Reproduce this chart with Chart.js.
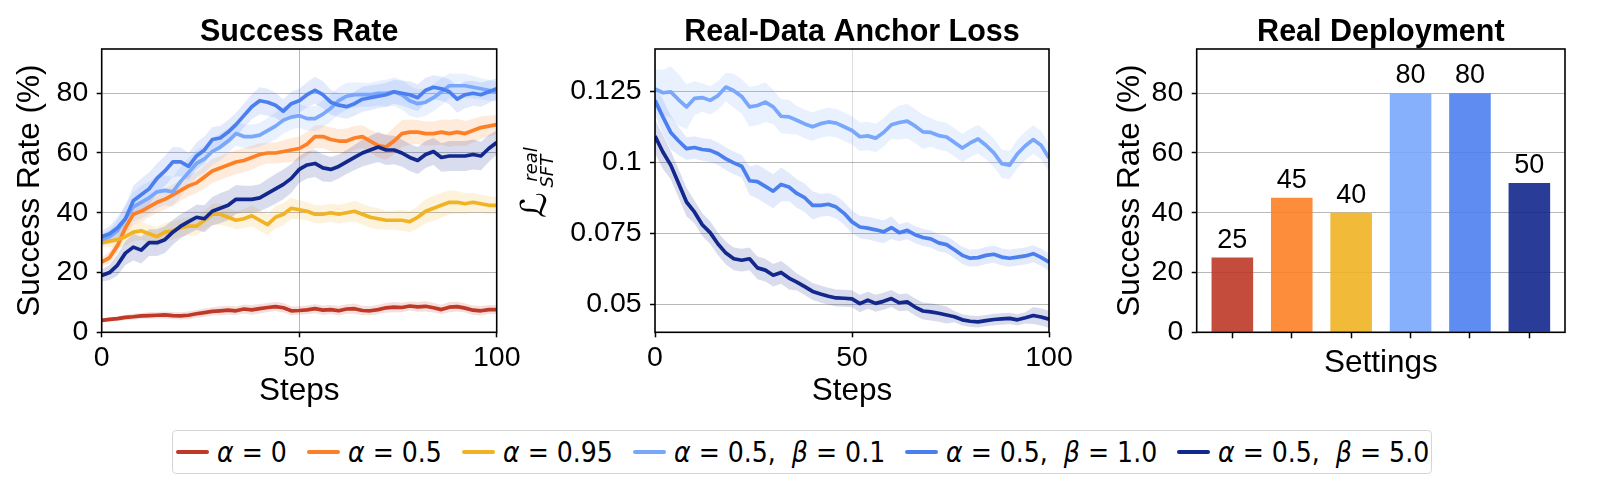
<!DOCTYPE html>
<html>
<head>
<meta charset="utf-8">
<script src="https://cdn.jsdelivr.net/npm/chart.js@4.4.1/dist/chart.umd.min.js"></script>
<style>
  html, body { margin: 0; padding: 0; background: #fff; }
  body { width: 1621px; height: 494px; position: relative; overflow: hidden; font-family: 'Liberation Sans', Arial, sans-serif; }
  .pane { position: absolute; top: 0; }
  #legend {
    position: absolute; left: 172px; top: 430px; width: 1260px; height: 44px;
    box-sizing: border-box; border: 1px solid #d6d6d6; border-radius: 4px;
    display: flex; align-items: center; padding-left: 3px;
    font-family: 'DejaVu Sans', sans-serif; font-size: 28px; color: #000; white-space: pre;
  }
  .item { display: flex; align-items: center; margin-right: 20px; }
  .handle { width: 33px; height: 4px; border-radius: 2px; margin-right: 8px; flex: none; }
  .txt { display: inline-block; transform: scaleX(0.9); transform-origin: 0 50%; }
  .txt i { font-style: italic; }
</style>
</head>
<body>
<div class="pane" style="left:0px"><canvas id="c1" width="560" height="420"></canvas></div>
<div class="pane" style="left:510px"><canvas id="c2" width="600" height="420"></canvas></div>
<div class="pane" style="left:1060px"><canvas id="c3" width="561" height="420"></canvas></div>
<div id="legend"></div>
<script>
// ---------------- DATA ----------------
const steps = [0,2,4,6,8,10,12,14,16,18,20,22,24,26,28,30,32,34,36,38,40,42,44,46,48,50,52,54,56,58,60,62,64,66,68,70,72,74,76,78,80,82,84,86,88,90,92,94,96,98,100];

const seriesLabels = ['α = 0', 'α = 0.5', 'α = 0.95', 'α = 0.5,  β = 0.1', 'α = 0.5,  β = 1.0', 'α = 0.5,  β = 5.0'];
const seriesColors = ['#be3927', '#fd8026', '#f1b324', '#79a7fc', '#4c7fee', '#12288d'];

// Success rate (%) per step
const succAlpha0 = [4,4.3,4.6,5,5.2,5.5,5.6,5.7,5.8,5.6,5.5,5.7,6.2,6.6,7,7.2,7.4,7.2,7.8,7.5,7.9,8.3,8.6,8.2,7.2,7.3,7.5,7.9,7.4,7.6,7.2,7.8,7.9,7.3,7.2,7.6,8.2,8.4,8.3,8.8,8.5,8.7,8.2,7.6,8.4,8.6,8.1,7.4,7.2,7.6,7.6];
const succAlpha05 = [23.5,25,29,35,39.5,40.5,42,43.5,44.5,46,47.5,49,50,52,54,55,56,57,57.5,58.5,59.5,60,60,60.5,61,61.5,63,65.5,65.5,64.5,64,64,65,65.5,64,62.5,62,64,66.5,67,67,66.5,66.5,67,66.5,67,66.5,67.5,68.5,69,69.5];
const succAlpha095 = [30,30.5,31,32,33.5,34,33,32,33.5,34,35,35.5,35.5,37.5,39.5,39.5,38.5,37.5,38,39,37.5,36,38.5,39.5,41.5,41,40.5,39.5,39.5,40,39.5,40,40.5,39.5,38.5,38,37.5,37.5,37.5,37,38.5,40.5,41.5,42.5,43.5,43.5,43,43.5,43,42.5,42.5];
const succBeta01 = [31,32,34,38,42,43.5,45,47,47.5,47,50.5,53.5,56.5,58,60.5,62,64,66.5,65.5,65.5,66,67.5,69,71,72,72.5,71.5,71.5,73,75,77.5,79,79.5,79.5,79.5,80,80,80.5,79.5,77.5,76.5,77,78.5,80.5,82.5,82.5,82.5,82,81.5,81,80.5];
const succBeta1 = [32,33,35,38,44,46,48,51.5,54,57,57,55.5,59,61,64.5,65,67,69.5,72.5,75.5,77.5,77,76,74,76.5,77.5,79.5,81,79.5,77,76,75.5,76.5,78,78.5,79,79.5,80.5,80,79.5,78.5,81,82,81.5,80.5,78,79.5,80,79.5,80.5,81.5];
const succBeta5 = [19,20,22.5,26.5,28.5,27.5,30,30,31,33.5,35.5,37,38.5,38,40.5,41.5,42.5,44.5,44.5,44.5,45,46.5,48,49.5,51.5,54.5,56,56.5,55,54.5,55.5,57,58.5,60,61,62,61,61,60,58.5,57.5,59.5,60.5,58.5,59,59,59,59.5,59,61.5,63.5];

// Success rate spread (half-width of shaded band)
const succAlpha0Band = [0.6,0.7,0.8,0.9,1.0,1.0,1.1,1.1,1.2,1.2,1.2,1.3,1.3,1.4,1.4,1.5,1.5,1.4,1.5,1.6,1.6,1.5,1.5,1.6,1.5,1.4,1.5,1.5,1.6,1.5,1.6,1.6,1.7,1.6,1.5,1.6,1.6,1.7,1.6,1.5,1.6,1.7,1.6,1.6,1.7,1.6,1.5,1.6,1.6,1.5,1.5];
const succAlpha05Band = [1.5,2,2.5,3,3.5,3.5,3.5,3.5,3.5,3.5,3.5,3.5,3.5,3.8,4,4,4,4,4,4,3.8,3.5,3.5,3.8,4,4,4,3.8,3.8,4,4,4.2,4,3.8,3.8,4,4.2,4.5,4.5,4.2,4,4,4,4.2,4.5,4.5,4.2,4,3.8,3.5,3.2];
const succAlpha095Band = [1.5,2,2.5,3,3,3,3,3.2,3.2,3,3,3,3.2,3.2,3.5,3.5,3.2,3,3.2,3.5,3.5,3.5,3.8,3.8,3.5,3.2,3,3,3,3,3.2,3.2,3.5,3.5,3.5,3.5,3.2,3.2,3.5,3.5,3.8,4,4.2,4.2,4,3.8,3.5,3.2,3,3,2.8];
const succBeta01Band = [2,2.5,3.5,4.5,5,5.5,5.5,5.5,5,5,5,4.8,4.5,4.5,4.5,4.5,4.2,4,4,4,4,4.2,4.5,4.5,4.2,4,4,4.2,4.5,4.5,4.5,4.5,4.2,4,4,4.2,4.5,4.8,5,5,4.8,4.5,4.5,4.5,4.2,4,4,3.8,3.5,3.5,3.2];
const succBeta1Band = [2,2.5,3.5,4.5,5,5.5,5.5,5,5,5,4.8,4.5,4.5,4.5,4.2,4,4,4,4,4.2,4.5,4.5,4.2,4,4,4,4.2,4.5,4.5,4.2,4,4,4,4.2,4.2,4,4,4,4.2,4.5,4.5,4.2,4,4,4.2,4.5,4.5,4.2,4,3.8,3.5];
const succBeta5Band = [2,2.5,3.5,4,4.5,4.5,4.5,4.5,4.5,4.2,4,4,4.2,4.5,4.8,5,5,4.8,4.5,4.5,4.5,4.8,5,5,4.8,4.5,4.5,4.5,4.5,4.2,4,4,4.2,4.5,4.8,5,5,4.8,4.5,4.5,4.5,4.5,4.5,4.8,5,5,5,5,4.8,4.5,4];

// Real-data anchor loss per step
const lossBeta01 = [0.1258,0.1245,0.1248,0.1220,0.1195,0.1225,0.1228,0.1218,0.1235,0.1265,0.1252,0.1232,0.1195,0.1200,0.1212,0.1195,0.1162,0.1160,0.1148,0.1135,0.1125,0.1136,0.1142,0.1138,0.1125,0.1112,0.1090,0.1093,0.1085,0.1105,0.1132,0.1140,0.1145,0.1128,0.1107,0.1105,0.1094,0.1089,0.1070,0.1050,0.1068,0.1082,0.1060,0.1033,0.0995,0.0990,0.1030,0.1058,0.1080,0.1060,0.1015];
const lossBeta1 = [0.1218,0.1160,0.1105,0.1075,0.1048,0.1052,0.1045,0.1042,0.1030,0.1012,0.0998,0.0986,0.0935,0.0932,0.0915,0.0898,0.0922,0.0913,0.0890,0.0875,0.0848,0.0848,0.0852,0.0842,0.0820,0.0790,0.0772,0.0768,0.0762,0.0755,0.0770,0.0752,0.0760,0.0745,0.0735,0.0730,0.0716,0.0710,0.0692,0.0672,0.0662,0.0664,0.0672,0.0676,0.0666,0.0662,0.0666,0.0670,0.0678,0.0665,0.0648];
const lossBeta5 = [0.1092,0.1036,0.0990,0.0925,0.0860,0.0825,0.0780,0.0752,0.0712,0.0680,0.0660,0.0655,0.0660,0.0628,0.0620,0.0602,0.0612,0.0592,0.0578,0.0562,0.0545,0.0536,0.0528,0.0522,0.0521,0.0519,0.0502,0.0514,0.0503,0.0510,0.0520,0.0505,0.0508,0.0490,0.0476,0.0473,0.0468,0.0462,0.0456,0.0445,0.0440,0.0438,0.0442,0.0446,0.0448,0.0450,0.0445,0.0452,0.0460,0.0455,0.0447];

const lossBeta01Band = [0.007,0.008,0.009,0.009,0.008,0.006,0.005,0.005,0.005,0.005,0.006,0.006,0.007,0.007,0.007,0.006,0.006,0.006,0.005,0.005,0.005,0.005,0.005,0.005,0.005,0.005,0.005,0.005,0.005,0.005,0.005,0.006,0.006,0.006,0.006,0.005,0.005,0.005,0.005,0.005,0.005,0.005,0.005,0.005,0.005,0.005,0.005,0.005,0.005,0.005,0.005];
const lossBeta1Band = [0.005,0.006,0.006,0.005,0.004,0.004,0.004,0.004,0.004,0.004,0.004,0.004,0.005,0.006,0.006,0.006,0.006,0.005,0.005,0.005,0.005,0.004,0.004,0.004,0.004,0.004,0.004,0.004,0.004,0.004,0.004,0.003,0.003,0.003,0.003,0.003,0.003,0.003,0.003,0.003,0.003,0.003,0.003,0.003,0.003,0.003,0.003,0.003,0.003,0.003,0.003];
const lossBeta5Band = [0.006,0.006,0.005,0.005,0.005,0.004,0.004,0.004,0.004,0.004,0.004,0.004,0.004,0.004,0.004,0.004,0.004,0.004,0.003,0.003,0.003,0.003,0.003,0.003,0.003,0.003,0.003,0.003,0.003,0.003,0.003,0.003,0.003,0.003,0.003,0.003,0.003,0.003,0.002,0.002,0.002,0.002,0.002,0.002,0.002,0.002,0.002,0.002,0.003,0.003,0.003];

// Real deployment
const deploySettings = ['α = 0', 'α = 0.5', 'α = 0.95', 'α = 0.5, β = 0.1', 'α = 0.5, β = 1.0', 'α = 0.5, β = 5.0'];
const deployValues = [25, 45, 40, 80, 80, 50];

// Tick values
const successTicks = [0, 20, 40, 60, 80];
const stepTicks = [0, 50, 100];
const lossTicks = [0.05, 0.075, 0.1, 0.125];

// ---------------- HELPERS ----------------
const FAMILY = "'Liberation Sans', Arial, sans-serif";
Chart.defaults.font.family = FAMILY;
Chart.defaults.color = '#000';

function rgba(hex, a) {
  const n = parseInt(hex.slice(1), 16);
  return `rgba(${(n >> 16) & 255},${(n >> 8) & 255},${n & 255},${a})`;
}
function buildSeries(values, band, color, idx) {
  return {
    band: [
      { data: steps.map((s, i) => ({ x: s, y: values[i] + band[i] })), borderWidth: 0, borderColor: 'transparent', pointRadius: 0, fill: '+1', backgroundColor: rgba(color, 0.16), order: 100 - idx },
      { data: steps.map((s, i) => ({ x: s, y: values[i] - band[i] })), borderWidth: 0, borderColor: 'transparent', pointRadius: 0, fill: false, order: 100 - idx }
    ],
    line: { data: steps.map((s, i) => ({ x: s, y: values[i] })), borderColor: color, borderWidth: 3.7, pointRadius: 0, fill: false, borderJoinStyle: 'round', borderCapStyle: 'butt', order: 20 - idx }
  };
}
function assemble(list) {
  const ds = [];
  list.forEach(s => ds.push(...s.band));
  list.forEach(s => ds.push(s.line));
  return ds;
}

// Draw text rotated by -90deg so that its ink box lands on a target box
// (x0..x1 horizontal extent, yBottom = lower end of the rotated text), canvas-local px.
function drawRotatedInk(ctx, text, fontTpl, baseSize, x0, x1, yBottom) {
  ctx.font = fontTpl(baseSize);
  let m = ctx.measureText(text);
  const h = m.actualBoundingBoxAscent + m.actualBoundingBoxDescent;
  const size = baseSize * (x1 - x0) / h;
  ctx.font = fontTpl(size);
  m = ctx.measureText(text);
  const v = x1 - m.actualBoundingBoxDescent;
  const u = m.actualBoundingBoxLeft - yBottom;
  ctx.save();
  ctx.rotate(-Math.PI / 2);
  ctx.textAlign = 'left';
  ctx.textBaseline = 'alphabetic';
  ctx.fillText(text, u, v);
  ctx.restore();
}

const panelDecor = {
  id: 'panelDecor',
  afterDraw(chart, args, opts) {
    const { ctx, chartArea: a } = chart;
    ctx.save();
    ctx.strokeStyle = '#000';
    ctx.lineWidth = 1.6;
    ctx.strokeRect(a.left, a.top, a.right - a.left, a.bottom - a.top);
    ctx.fillStyle = '#000';
    ctx.font = "bold 30.5px " + FAMILY;
    ctx.textAlign = 'center';
    ctx.textBaseline = 'middle';
    ctx.fillText(opts.title, (a.left + a.right) / 2, 32.5);
    if (opts.barLabels) {
      const meta = chart.getDatasetMeta(0);
      ctx.font = "27px " + FAMILY;
      ctx.textBaseline = 'alphabetic';
      meta.data.forEach((bar, i) => ctx.fillText(String(deployValues[i]), bar.x, bar.y - 10));
    }
    if (opts.mathLabel) {
      // y-axis label  L^{real}_{SFT}
      const dx = opts.mathLabel.dx;
      const big = s => s + "px 'DejaVu Sans', sans-serif";
      const small = s => "italic " + s + "px 'DejaVu Sans', sans-serif";
      drawRotatedInk(ctx, 'ℒ', big, 32, 528 - dx, 556 - dx, 230);
      drawRotatedInk(ctx, 'real', small, 18, 528 - dx, 542 - dx, 199);
      drawRotatedInk(ctx, 'SFT', small, 18, 545 - dx, 558 - dx, 204);
    }
    ctx.restore();
  }
};

const tickFont = { size: 28.5 };
const labelFont = { size: 31.5 };
const gridH = 'rgba(0,0,0,0.28)';

// ---------------- PANEL 1 ----------------
const succSeries = [
  buildSeries(succAlpha0, succAlpha0Band, seriesColors[0], 0),
  buildSeries(succAlpha05, succAlpha05Band, seriesColors[1], 1),
  buildSeries(succAlpha095, succAlpha095Band, seriesColors[2], 2),
  buildSeries(succBeta01, succBeta01Band, seriesColors[3], 3),
  buildSeries(succBeta1, succBeta1Band, seriesColors[4], 4),
  buildSeries(succBeta5, succBeta5Band, seriesColors[5], 5)
];
new Chart(document.getElementById('c1'), {
  type: 'line',
  data: { datasets: assemble(succSeries) },
  options: {
    responsive: false, animation: false, events: [],
    layout: { padding: { left: 0, right: 63.3, top: 49, bottom: 0 } },
    plugins: { legend: { display: false }, tooltip: { enabled: false }, panelDecor: { title: 'Success Rate' } },
    scales: {
      x: {
        type: 'linear', min: 0, max: 100,
        afterBuildTicks: s => { s.ticks = stepTicks.map(v => ({ value: v })); },
        afterFit: s => { s.height = 87.7; },
        ticks: { font: tickFont, padding: 4, maxRotation: 0, autoSkip: false },
        grid: { color: gridH, lineWidth: 1, tickLength: 5, tickColor: '#000', tickWidth: 1.5 },
        border: { display: false },
        title: { display: true, text: 'Steps', font: labelFont, padding: { top: 0, bottom: 9.8 } }
      },
      y: {
        min: 0, max: 94.8,
        afterBuildTicks: s => { s.ticks = successTicks.map(v => ({ value: v })); },
        afterFit: s => { s.width = 101.7; },
        ticks: { font: tickFont, padding: 8.4 },
        grid: { color: gridH, lineWidth: 1, tickLength: 5, tickColor: '#000', tickWidth: 1.5 },
        border: { display: false },
        title: { display: true, text: 'Success Rate (%)', font: labelFont, padding: { top: 11.1, bottom: 0 } }
      }
    }
  },
  plugins: [panelDecor]
});

// ---------------- PANEL 2 ----------------
const lossSeries = [
  buildSeries(lossBeta01, lossBeta01Band, seriesColors[3], 3),
  buildSeries(lossBeta1, lossBeta1Band, seriesColors[4], 4),
  buildSeries(lossBeta5, lossBeta5Band, seriesColors[5], 5)
];
new Chart(document.getElementById('c2'), {
  type: 'line',
  data: { datasets: assemble(lossSeries) },
  options: {
    responsive: false, animation: false, events: [],
    layout: { padding: { left: 0, right: 61, top: 49, bottom: 0 } },
    plugins: { legend: { display: false }, tooltip: { enabled: false }, panelDecor: { title: 'Real-Data Anchor Loss', mathLabel: { dx: 510 } } },
    scales: {
      x: {
        type: 'linear', min: 0, max: 100,
        afterBuildTicks: s => { s.ticks = stepTicks.map(v => ({ value: v })); },
        afterFit: s => { s.height = 87.7; },
        ticks: { font: tickFont, padding: 4, maxRotation: 0, autoSkip: false },
        grid: { color: 'rgba(0,0,0,0.13)', lineWidth: 1, tickLength: 5, tickColor: '#000', tickWidth: 1.5 },
        border: { display: false },
        title: { display: true, text: 'Steps', font: labelFont, padding: { top: 0, bottom: 9.8 } }
      },
      y: {
        min: 0.0401, max: 0.1399,
        afterBuildTicks: s => { s.ticks = lossTicks.map(v => ({ value: v })); },
        afterFit: s => { s.width = 145; },
        ticks: { font: tickFont, padding: 8.4, callback: v => String(v) },
        grid: { color: gridH, lineWidth: 1, tickLength: 5, tickColor: '#000', tickWidth: 1.5 },
        border: { display: false }
      }
    }
  },
  plugins: [panelDecor]
});

// ---------------- PANEL 3 ----------------
new Chart(document.getElementById('c3'), {
  type: 'bar',
  data: {
    datasets: [{
      label: 'Real Deployment',
      data: deployValues.map((v, i) => ({ x: i, y: v })),
      backgroundColor: seriesColors.map(c => rgba(c, 0.9)),
      borderWidth: 0,
      categoryPercentage: 1, barPercentage: 0.7
    }]
  },
  options: {
    responsive: false, animation: false, events: [],
    layout: { padding: { left: 0, right: 56, top: 49, bottom: 0 } },
    plugins: { legend: { display: false }, tooltip: { enabled: false }, panelDecor: { title: 'Real Deployment', barLabels: true } },
    scales: {
      x: {
        type: 'linear', min: -0.6, max: 5.6, offset: false,
        afterBuildTicks: s => { s.ticks = deploySettings.map((_, i) => ({ value: i })); },
        afterFit: s => { s.height = 87.7; },
        ticks: { font: tickFont, padding: 4, callback: () => '' },
        grid: { offset: false, drawOnChartArea: false, tickLength: 6, tickColor: '#000', tickWidth: 1.5 },
        border: { display: false },
        title: { display: true, text: 'Settings', font: labelFont, padding: { top: 0, bottom: 38.1 } }
      },
      y: {
        min: 0, max: 94.8,
        afterBuildTicks: s => { s.ticks = successTicks.map(v => ({ value: v })); },
        afterFit: s => { s.width = 136.7; },
        ticks: { font: tickFont, padding: 8.4 },
        grid: { color: gridH, lineWidth: 1, tickLength: 5, tickColor: '#000', tickWidth: 1.5 },
        border: { display: false },
        title: { display: true, text: 'Success Rate (%)', font: labelFont, padding: { top: 51, bottom: 0 } }
      }
    }
  },
  plugins: [panelDecor]
});

// ---------------- LEGEND ----------------
const legend = document.getElementById('legend');
const SCALE_X = 0.9;
seriesLabels.forEach((lab, i) => {
  const item = document.createElement('div');
  item.className = 'item';
  const h = document.createElement('span');
  h.className = 'handle';
  h.style.background = seriesColors[i];
  item.appendChild(h);
  const t = document.createElement('span');
  t.className = 'txt';
  t.innerHTML = lab.replace(/([αβ])/g, '<i>$1</i>');
  item.appendChild(t);
  legend.appendChild(item);
  t.style.marginRight = (-(1 - SCALE_X) * t.offsetWidth) + 'px';
});
</script>
</body>
</html>
